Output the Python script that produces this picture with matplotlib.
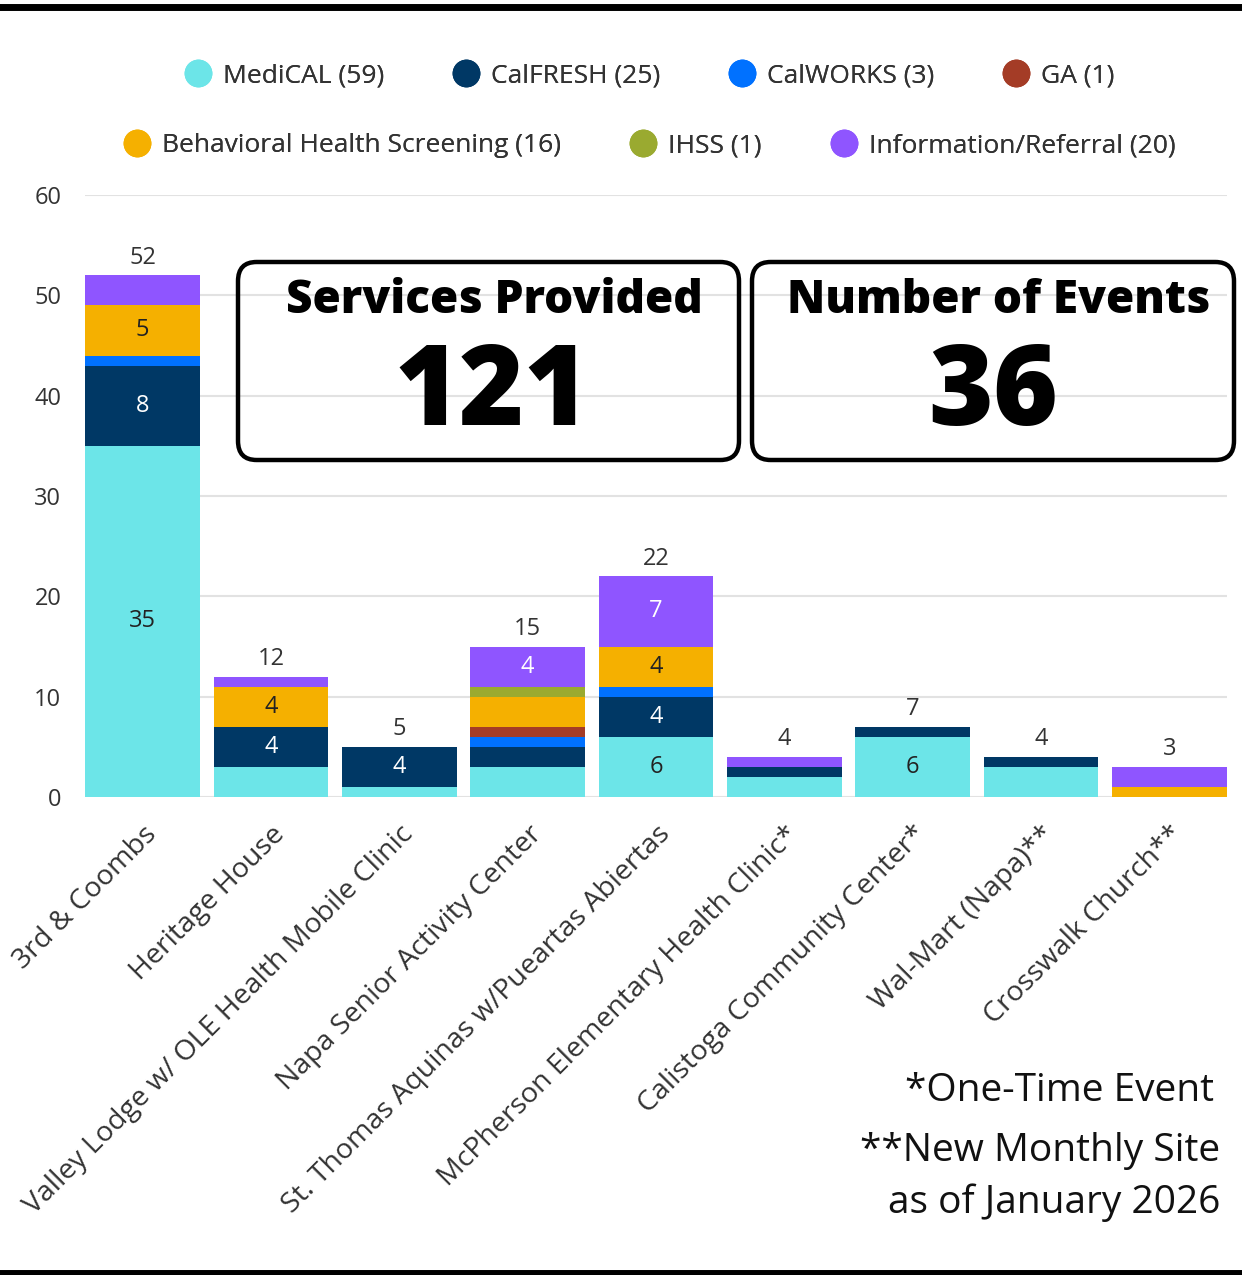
import numpy as np
import matplotlib.pyplot as plt
import matplotlib.transforms as mtrans
from matplotlib.lines import Line2D
from matplotlib.patches import FancyBboxPatch

plt.rcParams['font.family'] = ['Open Sans', 'DejaVu Sans']

sites = ['3rd & Coombs', 'Heritage House', 'Valley Lodge w/ OLE Health Mobile Clinic',
         'Napa Senior Activity Center', 'St. Thomas Aquinas w/Pueartas Abiertas',
         'McPherson Elementary Health Clinic*', 'Calistoga Community Center*',
         'Wal-Mart (Napa)**', 'Crosswalk Church**']

series_names = ['MediCAL (59)', 'CalFRESH (25)', 'CalWORKS (3)', 'GA (1)',
                'Behavioral Health Screening (16)', 'IHSS (1)', 'Information/Referral (20)']
colors = ['#6ce5e8', '#003865', '#0071ff', '#a43c26', '#f5b000', '#9aaa30', '#8f55ff']
label_colors = ['#222222', 'white', 'white', 'white', '#222222', 'white', 'white']

medical = [35, 3, 1, 3, 6, 2, 6, 3, 0]
calfresh = [8, 4, 4, 2, 4, 1, 1, 1, 0]
calworks = [1, 0, 0, 1, 1, 0, 0, 0, 0]
ga = [0, 0, 0, 1, 0, 0, 0, 0, 0]
bhs = [5, 4, 0, 3, 4, 0, 0, 0, 1]
ihss = [0, 0, 0, 1, 0, 0, 0, 0, 0]
info = [3, 1, 0, 4, 7, 1, 0, 0, 2]
series = [medical, calfresh, calworks, ga, bhs, ihss, info]

services_total = '121'
events_total = '36'

W, H = 1242, 1275
fig = plt.figure(figsize=(W / 100, H / 100), dpi=100)
ax = fig.add_axes([85 / W, 1 - 797 / H, (1227 - 85) / W, (797 - 195) / H])

x = np.arange(len(sites))
bottom = np.zeros(len(sites))
for vals, c, lc in zip(series, colors, label_colors):
    vals = np.array(vals, dtype=float)
    ax.bar(x, vals, 0.895, bottom=bottom, color=c, zorder=2)
    for xi, v, b in zip(x, vals, bottom):
        if v >= 4:
            ax.text(xi, b + v / 2, f'{int(v)}', ha='center', va='center',
                    fontsize=17, color=lc, zorder=3)
    bottom += vals

for xi, tot in zip(x, bottom):
    ax.annotate(f'{int(tot)}', (xi, tot), xytext=(0, 4), textcoords='offset points',
                ha='center', va='bottom', fontsize=17, color='#333333')

ax.set_xlim(-0.45, 8.45)
ax.set_ylim(0, 60)
ax.set_yticks(range(0, 61, 10))
ax.grid(axis='y', color='#e2e2e2', linewidth=1.5, zorder=0)
ax.set_axisbelow(True)
for s in ax.spines.values():
    s.set_visible(False)
ax.tick_params(axis='both', length=0, labelsize=17, labelcolor='#333333')
ax.tick_params(axis='y', pad=17)
ax.set_xticks(x)
ax.set_xticklabels(sites, rotation=45, ha='right', va='center',
                   rotation_mode='anchor', fontsize=20.5)
ax.tick_params(axis='x', pad=24)
shift = mtrans.ScaledTranslation(10 / 100, 0, fig.dpi_scale_trans)
for lab in ax.get_xticklabels():
    lab.set_transform(lab.get_transform() + shift)

# legend in two rows
h1 = [Line2D([], [], ls='', marker='o', markersize=19, color=c) for c in colors[:4]]
h2 = [Line2D([], [], ls='', marker='o', markersize=19, color=c) for c in colors[4:]]
for handles, names, y in [(h1, series_names[:4], 1 - 76 / H), (h2, series_names[4:], 1 - 146 / H)]:
    leg = fig.legend(handles, names, loc='center', bbox_to_anchor=(0.522, y), ncol=len(names),
                     frameon=False, fontsize=19, handletextpad=0.35, columnspacing=2.5,
                     handlelength=1.2)
    for t in leg.get_texts():
        t.set_color('#333333')
    fig.add_artist(leg)

# KPI boxes
for (x0, x1), title, num, tx, nx in [((238, 739), 'Services Provided', services_total, 494, 492),
                                      ((752, 1234), 'Number of Events', events_total, 999, 993)]:
    box = FancyBboxPatch((x0 / W, 1 - 460 / H), (x1 - x0) / W, 198 / H,
                         boxstyle='round,pad=0,rounding_size=0.015',
                         transform=fig.transFigure, facecolor='none',
                         edgecolor='black', linewidth=3.2, zorder=5)
    fig.add_artist(box)
    fig.text(tx / W, 1 - 313 / H, title, ha='center', va='baseline',
             fontsize=33, fontweight='heavy', color='black')
    fig.text(nx / W, 1 - 425 / H, num, ha='center', va='baseline',
             fontsize=80, fontweight='heavy', color='black')

# footnotes
fig.text(1214 / W, 1 - 1101 / H, '*One-Time Event', ha='right', va='baseline',
         fontsize=28, color='#111111')
fig.text(1220 / W, 1 - 1161 / H, '**New Monthly Site', ha='right', va='baseline',
         fontsize=28, color='#111111')
fig.text(1220 / W, 1 - 1213 / H, 'as of January 2026', ha='right', va='baseline',
         fontsize=28, color='#111111')

# top and bottom rules
fig.add_artist(Line2D([0, 1], [1 - 7 / H, 1 - 7 / H], color='black', linewidth=5,
                      transform=fig.transFigure))
fig.add_artist(Line2D([0, 1], [2 / H, 2 / H], color='black', linewidth=5,
                      transform=fig.transFigure))

fig.savefig('out.png', dpi=100)
